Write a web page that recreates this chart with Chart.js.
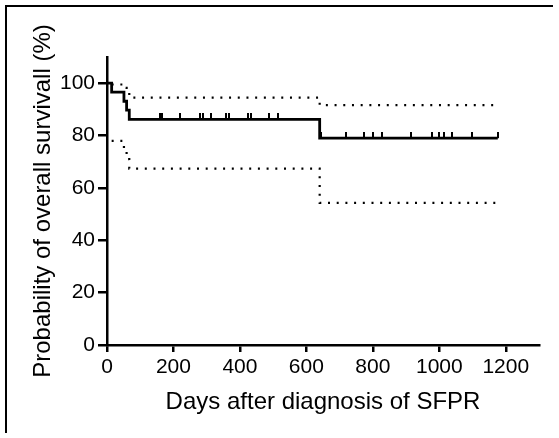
<!DOCTYPE html>
<html>
<head>
<meta charset="utf-8">
<script src="https://cdn.jsdelivr.net/npm/chart.js@4"></script>
<style>
  html, body { margin: 0; padding: 0; background: #fff; }
  canvas { display: block; }
</style>
</head>
<body>
<canvas id="kmChart" width="559" height="438"></canvas>
<script>
// Kaplan-Meier estimate (step changes)
const kmDays = [0, 14, 51, 59, 67, 640, 1176];
const kmSurvival = [100, 96.6, 93.1, 89.7, 86.2, 79.0, 79.0];

// 95% confidence band
const ciDays = [14, 51, 59, 67, 640, 1176];
const ciUpper = [99.5, 98.2, 96.5, 94.5, 91.6, 91.6];
const ciLower = [78.0, 74.5, 71.0, 67.4, 54.3, 54.3];

// censored patients
const censorDays = [159, 167, 219, 279, 289, 314, 357, 367, 424, 434, 489, 514,
                    645, 719, 774, 799, 829, 914, 979, 999, 1014, 1039, 1099, 1176];

const xTicks = { min: 0, max: 1300, step: 200 };
const yTicks = { min: 0, max: 110, step: 20 };

function survivalAt(day) {
    let s = kmSurvival[0];
    for (let i = 0; i < kmDays.length; i++) {
        if (kmDays[i] <= day) s = kmSurvival[i];
    }
    return s;
}

const toPoints = (xs, ys) => xs.map((x, i) => ({ x: x, y: ys[i] }));

// small vertical tick sitting on top of the curve
const censorMark = document.createElement('canvas');
censorMark.width = 2;
censorMark.height = 12;
const cm = censorMark.getContext('2d');
cm.fillStyle = '#000';
cm.fillRect(0, 0, 2, 6);

const frame = {
    id: 'frame',
    beforeDraw(chart) {
        const c = chart.ctx;
        c.save();
        c.fillStyle = '#000';
        c.fillRect(5, 5, 548, 2);
        c.fillRect(5, 5, 2, 428);
        c.restore();
    }
};

const font = 'Liberation Sans, Arial, Helvetica, sans-serif';
const dotted = {
    stepped: 'before',
    borderColor: '#000',
    borderWidth: 2.2,
    borderDash: [2, 6.7],
    pointRadius: 0,
    fill: false
};

new Chart(document.getElementById('kmChart'), {
    type: 'line',
    data: {
        datasets: [
            Object.assign({ label: 'Upper', data: toPoints(ciDays, ciUpper) }, dotted),
            Object.assign({ label: 'Lower', data: toPoints(ciDays, ciLower) }, dotted),
            {
                label: 'Survival',
                data: toPoints(kmDays, kmSurvival),
                stepped: 'before',
                borderColor: '#000',
                borderWidth: 2.8,
                pointRadius: 0,
                fill: false
            },
            {
                label: 'Censored',
                type: 'scatter',
                data: censorDays.map(d => ({ x: d, y: survivalAt(d) })),
                pointStyle: censorMark,
                showLine: false
            }
        ]
    },
    options: {
        responsive: false,
        animation: false,
        layout: { padding: { top: 57, right: 20, left: 0, bottom: 0 } },
        plugins: {
            legend: { display: false },
            tooltip: { enabled: false }
        },
        scales: {
            x: {
                type: 'linear',
                min: xTicks.min,
                max: xTicks.max,
                afterFit: s => { s.height = 93; },
                border: { display: true, color: '#000', width: 2.5 },
                grid: { drawOnChartArea: false, drawTicks: true, tickLength: 7, color: '#000', lineWidth: 2.5 },
                ticks: {
                    stepSize: xTicks.step,
                    includeBounds: false,
                    color: '#000',
                    padding: 3,
                    maxRotation: 0,
                    callback: v => String(v),
                    font: { family: font, size: 21 }
                },
                title: {
                    display: true,
                    text: 'Days after diagnosis of SFPR',
                    color: '#000',
                    padding: { bottom: 21 },
                    font: { family: font, size: 24 }
                }
            },
            y: {
                min: yTicks.min,
                max: yTicks.max,
                afterFit: s => { s.width = 107; },
                border: { display: true, color: '#000', width: 2.5 },
                grid: { drawOnChartArea: false, drawTicks: true, tickLength: 9, color: '#000', lineWidth: 2.5 },
                ticks: {
                    stepSize: yTicks.step,
                    includeBounds: false,
                    color: '#000',
                    padding: 3,
                    callback: v => String(v),
                    font: { family: font, size: 21 }
                },
                title: {
                    display: true,
                    text: 'Probability of overall survivall (%)',
                    color: '#000',
                    padding: { top: 29 },
                    font: { family: font, size: 24 }
                }
            }
        }
    },
    plugins: [frame]
});
</script>
</body>
</html>
